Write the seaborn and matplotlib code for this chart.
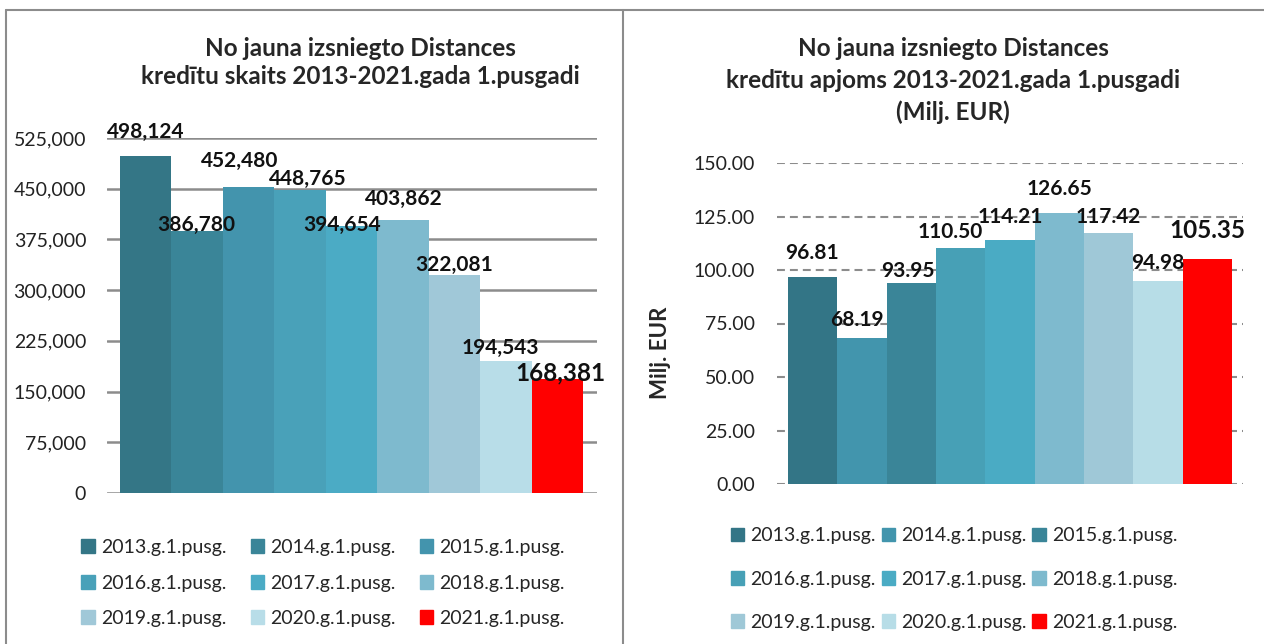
import matplotlib
matplotlib.use("Agg")
import matplotlib.pyplot as plt
import seaborn as sns
from matplotlib.patches import Patch
from matplotlib.lines import Line2D
from matplotlib.ticker import FuncFormatter

# dati
periods = ['2013.g.1.pusg.', '2014.g.1.pusg.', '2015.g.1.pusg.', '2016.g.1.pusg.', '2017.g.1.pusg.',
           '2018.g.1.pusg.', '2019.g.1.pusg.', '2020.g.1.pusg.', '2021.g.1.pusg.']
skaits = [498124, 386780, 452480, 448765, 394654, 403862, 322081, 194543, 168381]
apjoms = [96.81, 68.19, 93.95, 110.50, 114.21, 126.65, 117.42, 94.98, 105.35]

colors_left = ['#347686', '#3a8598', '#4394ad', '#49a1b9', '#4babc5',
               '#7ebace', '#a0c8d8', '#b8dde8', '#ff0000']
colors_right = ['#337586', '#4295ad', '#3a8598', '#47a0b6', '#4aabc4',
                '#7ebace', '#9fc8d7', '#b7dde7', '#ff0000']

# label nobīdes (pikseļi) kā Excel attēlā
off_left = [(0, 24), (-1, 6), (-9, 26), (8, 11), (-9, 1), (1, 21), (0, 10), (-6, 13), (3, 6)]
off_right = [(-1, 24), (-5, 18), (-3, 12), (-10, 16), (0, 23), (0, 24), (0, 16), (0, 18), (0, 28)]

sns.set_style("white")
plt.rcParams['font.family'] = ['Lato', 'DejaVu Sans']

fig = plt.figure(figsize=(12.64, 6.44), dpi=100)
grey = '#8c8c8c'

# rāmis
fig.add_artist(Line2D([6/1264, 1], [1-10/644, 1-10/644], color=grey, lw=1.5))
fig.add_artist(Line2D([6/1264, 6/1264], [0, 1-10/644], color=grey, lw=1.5))
fig.add_artist(Line2D([623/1264, 623/1264], [0, 1-10/644], color=grey, lw=1.5))

legend_order = [0, 3, 6, 1, 4, 7, 2, 5, 8]

# ---- kreisais grafiks: skaits
ax1 = fig.add_axes([107/1264, 1-493/644, 490/1264, 355/644])
sns.barplot(x=periods, y=skaits, hue=periods, palette=colors_left, width=1.0,
            legend=False, ax=ax1, saturation=1, linewidth=0, edgecolor='none')
ax1.set_ylim(0, 525000)
ax1.set_yticks(range(0, 525001, 75000))
ax1.yaxis.set_major_formatter(FuncFormatter(lambda v, p: f'{int(v):,}'))
ax1.set_xlim(-0.75, 8.77)
ax1.set_xticks([])
ax1.yaxis.grid(True, color=grey, lw=1.8)
ax1.set_axisbelow(True)
ax1.tick_params(axis='y', length=0, pad=15, labelsize=14, labelcolor='#222222')
for s in ax1.spines.values():
    s.set_visible(False)
for i, v in enumerate(skaits):
    big = i == len(skaits) - 1
    ax1.annotate(f'{v:,}', (i, v), xytext=off_left[i], textcoords='offset pixels',
                 ha='center', va='center', fontweight='bold',
                 fontsize=17.5 if big else 15, color='#111111')

fig.text(360/1264, 1-48/644, 'No jauna izsniegto Distances', ha='center', va='center',
         fontsize=17.5, fontweight='bold')
fig.text(360/1264, 1-77/644, 'kredītu skaits 2013-2021.gada 1.pusgadi', ha='center', va='center',
         fontsize=17.5, fontweight='bold')

h1 = [Patch(color=colors_left[i], label=periods[i]) for i in legend_order]
fig.legend(handles=h1, ncol=3, loc='center', bbox_to_anchor=(323/1264, 1-583/644),
           frameon=False, fontsize=14, handlelength=0.7, handleheight=0.7,
           handletextpad=0.3, columnspacing=1.25, labelspacing=0.95)

# ---- labais grafiks: apjoms
ax2 = fig.add_axes([777/1264, 1-484/644, 466/1264, 321/644])
sns.barplot(x=periods, y=apjoms, hue=periods, palette=colors_right, width=1.0,
            legend=False, ax=ax2, saturation=1, linewidth=0, edgecolor='none')
ax2.set_ylim(0, 150)
ax2.set_yticks([0, 25, 50, 75, 100, 125, 150])
ax2.yaxis.set_major_formatter(FuncFormatter(lambda v, p: f'{v:.2f}'))
ax2.set_xlim(-0.72, 8.72)
ax2.set_xticks([])
ax2.yaxis.grid(True, color=grey, lw=1.5, linestyle=(0, (3.8, 2.4)))
ax2.set_axisbelow(True)
ax2.tick_params(axis='y', length=0, pad=16, labelsize=14, labelcolor='#222222')
for s in ax2.spines.values():
    s.set_visible(False)
ax2.set_ylabel('Milj. EUR', fontsize=16, fontweight='bold', labelpad=16, y=0.41)
for i, v in enumerate(apjoms):
    big = i == len(apjoms) - 1
    ax2.annotate(f'{v:.2f}', (i, v), xytext=off_right[i], textcoords='offset pixels',
                 ha='center', va='center', fontweight='bold',
                 fontsize=17.5 if big else 15, color='#111111')

fig.text(953/1264, 1-48/644, 'No jauna izsniegto Distances', ha='center', va='center',
         fontsize=17.5, fontweight='bold')
fig.text(953/1264, 1-80/644, 'kredītu apjoms 2013-2021.gada 1.pusgadi', ha='center', va='center',
         fontsize=17.5, fontweight='bold')
fig.text(953/1264, 1-112/644, '(Milj. EUR)', ha='center', va='center',
         fontsize=17.5, fontweight='bold')

h2 = [Patch(color=colors_right[i], label=periods[i]) for i in legend_order]
fig.legend(handles=h2, ncol=3, loc='center', bbox_to_anchor=(954/1264, 1-579/644),
           frameon=False, fontsize=14, handlelength=0.7, handleheight=0.7,
           handletextpad=0.3, columnspacing=0.3, labelspacing=1.35)

fig.savefig('out.png', dpi=100)
